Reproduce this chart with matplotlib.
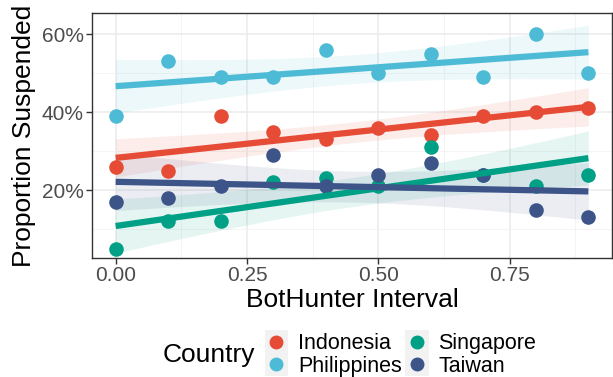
import numpy as np
import matplotlib
matplotlib.use("Agg")
import matplotlib.pyplot as plt
from matplotlib.legend_handler import HandlerBase
from matplotlib.patches import Rectangle
from matplotlib.lines import Line2D
from matplotlib.ticker import FixedLocator, FuncFormatter

plt.rcParams['font.family'] = ['Liberation Sans', 'DejaVu Sans']

intervals = [0.0, 0.1, 0.2, 0.3, 0.4, 0.5, 0.6, 0.7, 0.8, 0.9]
countries = ["Indonesia", "Philippines", "Singapore", "Taiwan"]
indonesia = [0.26, 0.25, 0.39, 0.35, 0.33, 0.36, 0.34, 0.39, 0.40, 0.41]
philippines = [0.39, 0.53, 0.49, 0.49, 0.56, 0.50, 0.55, 0.49, 0.60, 0.50]
singapore = [0.05, 0.12, 0.12, 0.22, 0.23, 0.21, 0.31, 0.24, 0.21, 0.24]
taiwan = [0.17, 0.18, 0.21, 0.29, 0.21, 0.24, 0.27, 0.24, 0.15, 0.13]
colors = ["#E64B35", "#4DBBD5", "#00A087", "#3C5488"]
series = [indonesia, philippines, singapore, taiwan]

T_975_DF8 = 2.306  # two-sided 95% t quantile, 8 degrees of freedom

fig = plt.figure(figsize=(6.13, 3.77), dpi=100)
ax = fig.add_axes([92 / 613, 1 - 258 / 377, (612 - 92) / 613, (258 - 13) / 377])

x = np.array(intervals)
xs = np.linspace(x.min(), x.max(), 100)
for vals, col in zip(series, colors):
    y = np.array(vals)
    n = len(x)
    slope, icpt = np.polyfit(x, y, 1)
    resid = y - (icpt + slope * x)
    s = np.sqrt(np.sum(resid ** 2) / (n - 2))
    sxx = np.sum((x - x.mean()) ** 2)
    fit = icpt + slope * xs
    se = s * np.sqrt(1 / n + (xs - x.mean()) ** 2 / sxx)
    ax.fill_between(xs, fit - T_975_DF8 * se, fit + T_975_DF8 * se,
                    color=col, alpha=0.1, lw=0, zorder=2)
for vals, col in zip(series, colors):
    ax.scatter(x, vals, s=110, color=col, zorder=3, lw=0)
for vals, col in zip(series, colors):
    y = np.array(vals)
    slope, icpt = np.polyfit(x, y, 1)
    ax.plot(xs, icpt + slope * xs, color=col, lw=4.5, zorder=4,
            solid_capstyle='butt')

ax.set_xlim(-0.045, 0.945)
ax.set_ylim(0.026, 0.654)
ax.xaxis.set_major_locator(FixedLocator([0, 0.25, 0.5, 0.75]))
ax.xaxis.set_minor_locator(FixedLocator([0.125, 0.375, 0.625, 0.875]))
ax.yaxis.set_major_locator(FixedLocator([0.2, 0.4, 0.6]))
ax.yaxis.set_minor_locator(FixedLocator([0.1, 0.3, 0.5]))
ax.xaxis.set_major_formatter(FuncFormatter(lambda v, p: f"{v:.2f}"))
ax.yaxis.set_major_formatter(FuncFormatter(lambda v, p: f"{v*100:.0f}%"))
ax.grid(True, which='major', color='#EBEBEB', lw=1.1, zorder=0)
ax.grid(True, which='minor', color='#F3F3F3', lw=0.6, zorder=0)
ax.set_axisbelow(True)
for sp in ax.spines.values():
    sp.set_color('#333333')
    sp.set_linewidth(1.0)
ax.tick_params(which='major', length=4, color='#333333', labelsize=15,
               labelcolor='#4D4D4D', width=1.0, pad=2)
ax.tick_params(which='minor', length=0)
ax.set_xlabel("BotHunter Interval", fontsize=19, labelpad=2)
ax.set_ylabel("Proportion Suspended", fontsize=19, labelpad=4)


class KeyHandler(HandlerBase):
    def create_artists(self, legend, orig, xd, yd, w, h, fontsize, trans):
        size = 17
        cx, cy = xd + w / 2, yd + h / 2
        bg = Rectangle((cx - size / 2, cy - size / 2), size, size,
                       facecolor='#F2F2F2', edgecolor='none', transform=trans)
        mk = Line2D([cx], [cy], marker='o', markersize=9,
                    color=orig.get_color(), lw=0, transform=trans)
        return [bg, mk]


handles = [Line2D([], [], color=c) for c in colors]
leg = fig.legend(handles, countries, ncol=2, loc='center',
                 bbox_to_anchor=(402 / 613, 1 - 355 / 377), frameon=False,
                 fontsize=15.5, handler_map={Line2D: KeyHandler()},
                 handlelength=0.8, handletextpad=0.6, columnspacing=0.3,
                 labelspacing=0.05, borderpad=0)
fig.text(163 / 613, 1 - 355 / 377, "Country", fontsize=19, va='center',
         ha='left')

fig.savefig("out.png", dpi=100)
